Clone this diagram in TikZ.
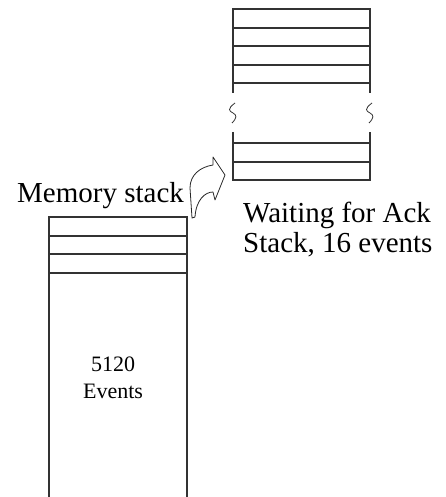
\documentclass[tikz,border=0pt]{standalone}
\usepackage{fontspec}
\setmainfont{Liberation Serif}
\usetikzlibrary{positioning,calc}
\tikzset{%
	stackline/.style = {line width=1.3pt, black!80},
	breakline/.style = {line width=0.8pt, black!80},
	bigtext/.style   = {font=\fontsize{29}{30}\selectfont, inner sep=0pt},
	smalltext/.style = {font=\fontsize{22}{27}\selectfont, inner sep=0pt, align=center},
	bentarrow/.style = {line width=0.8pt, black!85, line join=round},
}

\begin{document}
\begin{tikzpicture}[x=1pt,y=-1pt]
		\useasboundingbox (0,0) rectangle (446,497);
		
		% waiting for ack stack, upper part
		\draw[stackline] (233,93) |- (370,9) -- (370,93);
		\foreach \y in {28,46,65,83} \draw[stackline] (233,\y) -- (370,\y);
		
		\foreach \x in {233,370} \draw[breakline] (\x+2,103) .. controls (\x-6,109) and (\x-4,111) .. (\x,113) .. controls (\x+4,115) and (\x+4,118) .. (\x-1,123);
		
		% waiting for ack stack, lower part
		\draw[stackline] (233,132) |- (370,180) -- (370,132);
		\foreach \y in {143,162} \draw[stackline] (233,\y) -- (370,\y);
		
		% memory stack
		\draw[stackline] (49,497) |- (187,217) -- (187,497);
		\foreach \y in {236,254,273} \draw[stackline] (49,\y) -- (187,\y);
		
		\coordinate (memtop) at (187,217);
		\coordinate (ackbot) at (233,175);
		\begin{scope}[shift={(memtop)}]
			\draw[bentarrow] (5,1) -- (3,-29) .. controls (3,-42) and (13,-50) .. (26,-52) -- (26,-60) -- (38,-42) -- (28,-17) -- (26,-25) .. controls (18,-25) and (9,-17) .. (8,0) -- cycle;
		\end{scope}
		
		\node[bigtext, anchor=base west] (memlabel) at (17,202) {Memory stack};
		\node[bigtext, anchor=base west, align=left] (acklabel) at (243,252) {Waiting for Ack\\Stack, 16 events};
		\node[smalltext] (eventcount) at (113,378) {5120\\Events};
	\end{tikzpicture}
\end{document}
